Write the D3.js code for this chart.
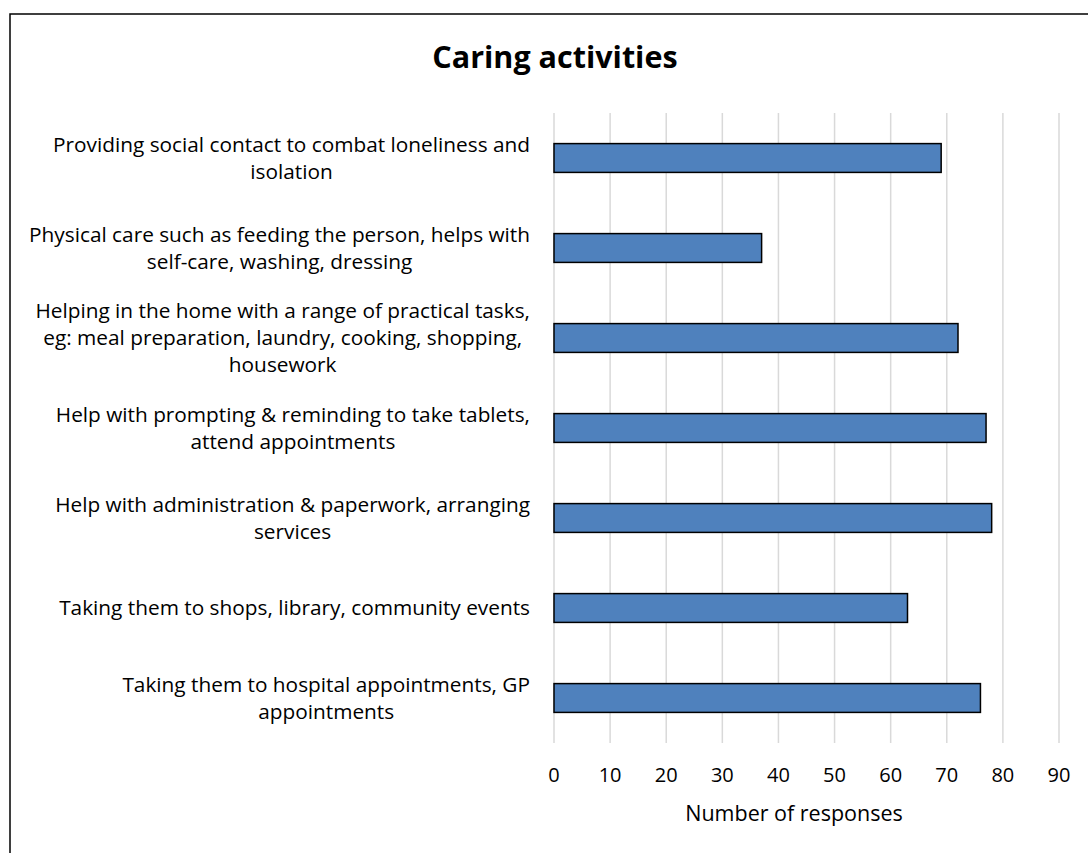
<!DOCTYPE html>
<html>
<head>
<meta charset="utf-8">
<script src="https://cdn.jsdelivr.net/npm/d3@7"></script>
<style>
  body { margin: 0; background: #fff; }
  text { font-family: "Open Sans", "Noto Sans", sans-serif; fill: #000; }
</style>
</head>
<body>
<svg width="1088" height="853"></svg>
<script>
var categories = [
    "Providing social contact to combat loneliness and\nisolation",
    "Physical care such as feeding the person, helps with\nself-care, washing, dressing",
    "Helping in the home with a range of practical tasks,\neg: meal preparation, laundry, cooking, shopping,\nhousework",
    "Help with prompting & reminding to take tablets,\nattend appointments",
    "Help with administration & paperwork, arranging\nservices",
    "Taking them to shops, library, community events",
    "Taking them to hospital appointments, GP\nappointments"
];
var responses = [69, 37, 72, 77, 78, 63, 76];
var xTicks = [0, 10, 20, 30, 40, 50, 60, 70, 80, 90];

var svg = d3.select("svg");

// chart border (runs off the right and bottom edges)
svg.append("rect")
    .attr("x", 10).attr("y", 14)
    .attr("width", 1100).attr("height", 900)
    .attr("fill", "#fff")
    .attr("stroke", "#000")
    .attr("stroke-width", 1.5);

var plotLeft = 554, plotRight = 1059, plotTop = 113, plotBottom = 743;

var x = d3.scaleLinear()
    .domain([0, 90])
    .range([plotLeft, plotRight]);

var y = d3.scaleBand()
    .domain(d3.range(categories.length))
    .range([plotTop, plotBottom])
    .paddingInner(0.68)
    .paddingOuter(0.34);

// gridlines
svg.append("g")
    .selectAll("line")
    .data(xTicks).enter()
    .append("line")
    .attr("x1", function(d) { return x(d); })
    .attr("x2", function(d) { return x(d); })
    .attr("y1", plotTop)
    .attr("y2", plotBottom)
    .attr("stroke", "#d9d9d9")
    .attr("stroke-width", 1.5);

// bars
svg.append("g")
    .selectAll("rect")
    .data(responses).enter()
    .append("rect")
    .attr("x", x(0))
    .attr("y", function(d, i) { return y(i); })
    .attr("width", function(d) { return x(d) - x(0); })
    .attr("height", y.bandwidth())
    .attr("fill", "#4f81bd")
    .attr("stroke", "#000")
    .attr("stroke-width", 1.5);

// tick labels
svg.append("g")
    .selectAll("text")
    .data(xTicks).enter()
    .append("text")
    .attr("x", function(d) { return x(d); })
    .attr("y", 782)
    .attr("text-anchor", "middle")
    .style("font-size", "20px")
    .text(function(d) { return d; });

// category labels: lines centred on each other, block right-aligned
var labelRight = 530, lineH = 27;
categories.forEach(function(c, i) {
    var lines = c.split("\n");
    var g = svg.append("g");
    var texts = lines.map(function(l, j) {
        return g.append("text")
            .attr("y", y(i) + y.bandwidth() / 2 + (j - (lines.length - 1) / 2) * lineH + 7)
            .attr("text-anchor", "middle")
            .style("font-size", "20.8px")
            .text(l);
    });
    var maxW = d3.max(texts, function(t) { return t.node().getComputedTextLength(); });
    texts.forEach(function(t) { t.attr("x", labelRight - maxW / 2); });
});

// axis title
svg.append("text")
    .attr("x", 794)
    .attr("y", 821)
    .attr("text-anchor", "middle")
    .style("font-size", "21.5px")
    .text("Number of responses");

// title
svg.append("text")
    .attr("x", 555)
    .attr("y", 68)
    .attr("text-anchor", "middle")
    .style("font-size", "30.5px")
    .style("font-weight", "bold")
    .text("Caring activities");
</script>
</body>
</html>
